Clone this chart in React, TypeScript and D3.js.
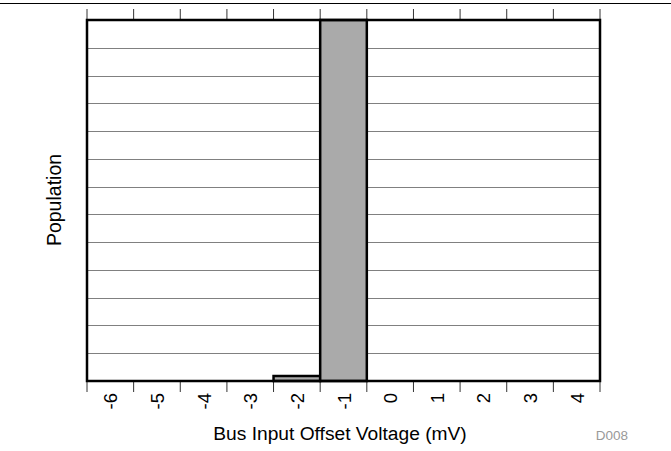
import React from "react";
import * as d3 from "d3";

const categories = ["-6", "-5", "-4", "-3", "-2", "-1", "0", "1", "2", "3", "4"];
const values = [0, 0, 0, 0, 18, 1300, 0, 0, 0, 0, 0];
const yMax = 1300;
const yGridStep = 100;

export default function App() {
  const W = 671, H = 451;
  const left = 87, right = 600, top = 20, bottom = 381;
  const x = d3.scaleBand<string>().domain(categories).range([left, right]).padding(0);
  const y = d3.scaleLinear().domain([0, yMax]).range([bottom, top]);
  const grid = d3.range(yGridStep, yMax, yGridStep);
  const tickXs = categories.map((c) => x(c) as number).concat([right]);
  const font = "'Liberation Sans', Arial, sans-serif";
  return (
    <svg width={W} height={H} style={{ position: "absolute", left: 0, top: 0, background: "#fff" }}>
      <line x1={0} x2={W} y1={3.5} y2={3.5} stroke="#000" strokeWidth={1.2} />
      {grid.map((g) => (
        <line key={g} x1={left} x2={right} y1={Math.round(y(g)) + 0.5} y2={Math.round(y(g)) + 0.5} stroke="#808080" strokeWidth={1} />
      ))}
      {tickXs.map((tx, i) => (
        <g key={i}>
          <line x1={tx} x2={tx} y1={9} y2={top} stroke="#333" strokeWidth={1} />
          <line x1={tx} x2={tx} y1={bottom} y2={392} stroke="#333" strokeWidth={1} />
        </g>
      ))}
      {categories.map((c, i) =>
        values[i] > 0 ? (
          <rect key={c} x={x(c)} y={y(values[i])} width={x.bandwidth()} height={bottom - y(values[i])} fill="#aaaaaa" stroke="#000" strokeWidth={2.5} />
        ) : null
      )}
      <rect x={left} y={top} width={right - left} height={bottom - top} fill="none" stroke="#000" strokeWidth={2.5} />
      {categories.map((c) => {
        const cx = (x(c) as number) + x.bandwidth() / 2;
        return (
          <text key={c} transform={`translate(${cx + 7},393) rotate(-90)`} textAnchor="end" fontFamily={font} fontSize={18.5} fill="#000">
            {c}
          </text>
        );
      })}
      <text x={340} y={440} textAnchor="middle" fontFamily={font} fontSize={19.2} fill="#000">
        Bus Input Offset Voltage (mV)
      </text>
      <text transform={`translate(61,${200}) rotate(-90)`} textAnchor="middle" fontFamily={font} fontSize={19.5} fill="#000">
        Population
      </text>
      <text x={612} y={440} textAnchor="middle" fontFamily={font} fontSize={13.5} fill="#999">
        D008
      </text>
    </svg>
  );
}
